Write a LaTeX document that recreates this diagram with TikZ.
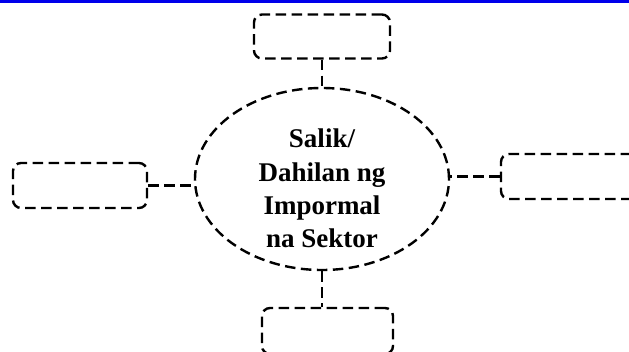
\documentclass[tikz,border=0pt]{standalone}
\usepackage{fontspec}
\setmainfont{Liberation Serif}
\usetikzlibrary{shapes.geometric}
\definecolor{rulblue}{RGB}{0,0,235}

\begin{document}
\begin{tikzpicture}[x=1pt, y=-1pt,
    dashline/.style={line width=2.4pt, dash pattern=on 10.5pt off 5.5pt},
    emptybox/.style={dashline, draw, rectangle, rounded corners=8pt,
        minimum width=136pt, minimum height=44pt, inner sep=0pt},
    bigoval/.style={dashline, draw, ellipse, minimum width=254pt,
        minimum height=182pt, inner sep=0pt}]
    % Sukat ng larawan
    \useasboundingbox (0,0) rectangle (629,351);
    \clip (0,0) rectangle (629,351);

    % Asul na guhit sa itaas
    \fill[rulblue] (0,0) rectangle (629,3);

    % Gitnang bilog
    \node[bigoval] (ell) at (322,179) {};
    \node[align=center, font=\fontsize{27}{33.3}\selectfont\bfseries] (lbl) at (322,188.5)
        {Salik/\\Dahilan ng\\Impormal\\na Sektor};

    % Mga kahon
    \node[emptybox] (tbox) at (322,36.5) {};
    \node[emptybox, minimum width=134pt, minimum height=45pt] (lbox) at (80,185.5) {};
    \node[emptybox, minimum width=138pt, minimum height=45pt] (rbox) at (570,176.5) {};
    \node[emptybox, minimum width=131pt, minimum height=46pt] (bbox) at (327.5,331) {};

    % Mga linya
    \draw[dashline] (tbox.south) -- (ell.north);
    \draw[dashline] (lbox.east) -- (lbox.east -| ell.west);
    \draw[dashline] (rbox.west) -- (rbox.west -| ell.east);
    \draw[dashline] (ell.south) -- (ell.south |- bbox.north);
\end{tikzpicture}
\end{document}
